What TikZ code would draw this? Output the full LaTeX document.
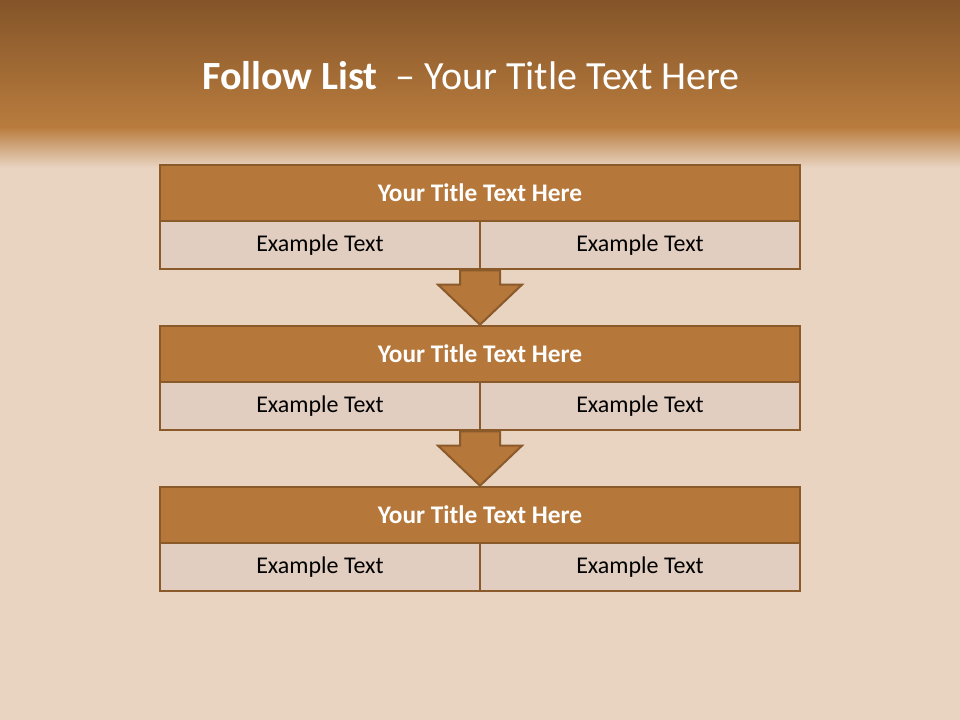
\documentclass[tikz,border=0pt]{standalone}
\usepackage{fontspec}
\setmainfont{Carlito}
\usetikzlibrary{calc}
\definecolor{sandbg}{RGB}{233,212,194}
\definecolor{bandtop}{RGB}{132,85,41}
\definecolor{bandlow}{RGB}{185,124,62}
\definecolor{rustfill}{RGB}{181,119,58}
\definecolor{rustline}{RGB}{139,90,43}
\definecolor{cellfill}{RGB}{226,206,192}

% arrow shape between two boxes: #1 upper point, #2 tip
\newcommand\flowarrow[2]{%
  \path[draw, arrowbody]($(#1)+(-20,0)$)--($(#1)+(20,0)$)--($(#2)+(20,-40)$)
    --($(#2)+(42,-40)$)--(#2)--($(#2)+(-42,-40)$)--($(#2)+(-20,-40)$)--cycle;}

\begin{document}
\begin{tikzpicture}[x=0.75pt, y=-0.75pt,
    titlebar/.style={draw=rustline, line width=2pt, fill=rustfill, text=white,
      minimum width=480pt, minimum height=42pt, font=\fontsize{19}{22}\selectfont\bfseries},
    cell/.style={draw=rustline, line width=2pt, fill=cellfill, text=black,
      minimum width=240pt, minimum height=36pt, font=\fontsize{18}{21}\selectfont},
    arrowbody/.style={fill=rustfill, draw=rustline, line width=1.5pt, line join=miter}]
  \useasboundingbox(0,0)rectangle(960,720);
  % background
  \fill[sandbg](0,0)rectangle(960,720);
  \shade[top color=bandtop, bottom color=bandlow](0,0)rectangle(960,128);
  \shade[top color=bandlow, bottom color=sandbg](0,127)rectangle(960,168);
  \node[text=white, font=\fontsize{30}{34}\selectfont](title)at(471,76)
    {\textbf{Follow List}~ – Your Title Text Here};

  % first box
  \node[titlebar](t1)at(480,193){Your Title Text Here};
  \node[cell](l1)at(320,245){Example Text};
  \node[cell](r1)at(640,245){Example Text};
  % second box
  \node[titlebar](t2)at(480,354){Your Title Text Here};
  \node[cell](l2)at(320,406){Example Text};
  \node[cell](r2)at(640,406){Example Text};
  % third box
  \node[titlebar](t3)at(480,515){Your Title Text Here};
  \node[cell](l3)at(320,567){Example Text};
  \node[cell](r3)at(640,567){Example Text};

  % arrows
  \coordinate(m1)at($(l1.south east)!0.5!(r1.south west)$);
  \coordinate(m2)at($(l2.south east)!0.5!(r2.south west)$);
  \flowarrow{m1}{t2.north}
  \flowarrow{m2}{t3.north}
\end{tikzpicture}
\end{document}
